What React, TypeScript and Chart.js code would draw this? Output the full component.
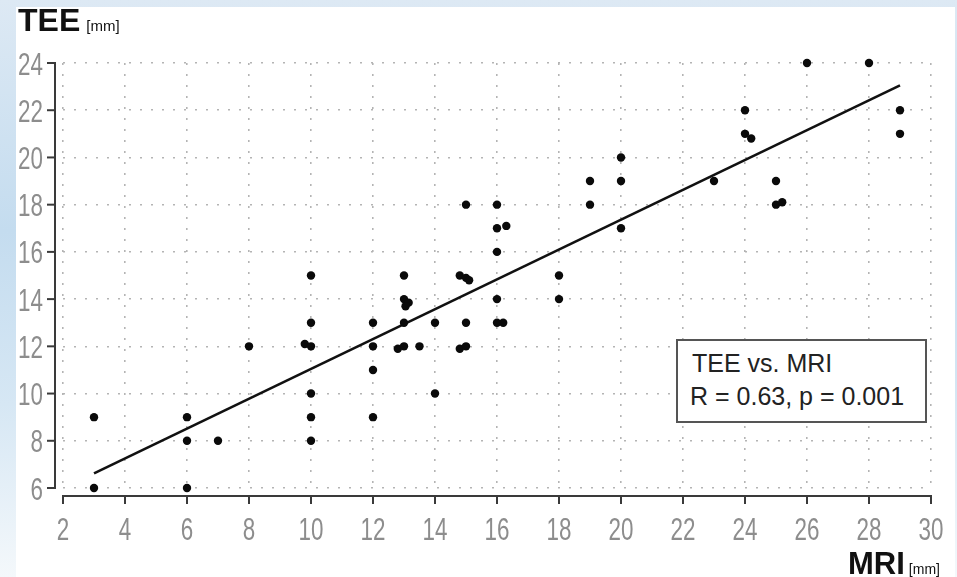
import React, { useEffect, useRef } from "react";
import { Chart, registerables } from "chart.js";

Chart.register(...registerables);

// MRI (x) vs TEE (y) measurements, mm
const mriValues = [
  3, 3, 6, 6, 6, 7, 8, 9.8, 10, 10, 10, 10, 10, 10,
  12, 12, 12, 12, 12.8, 13, 13, 13, 13.15, 13.05, 13, 13.5, 14, 14,
  14.8, 15, 15.1, 15, 15, 14.8, 15, 16, 16, 16.3, 16, 16, 16, 16.2,
  18, 18, 19, 19, 20, 20, 20, 23, 24, 24, 24.2, 25, 25, 25.2, 26, 28, 29, 29,
];
const teeValues = [
  9, 6, 9, 8, 6, 8, 12, 12.1, 15, 13, 12, 10, 9, 8,
  13, 12, 11, 9, 11.9, 12, 13, 14, 13.85, 13.7, 15, 12, 13, 10,
  15, 14.9, 14.8, 18, 13, 11.9, 12, 18, 17, 17.1, 16, 14, 13, 13,
  15, 14, 19, 18, 20, 19, 17, 19, 22, 21, 20.8, 19, 18, 18.1, 24, 24, 22, 21,
];
// regression line endpoints
const fitLineX = [3, 29];
const fitLineY = [6.62, 23.05];

const xTicks = [2, 4, 6, 8, 10, 12, 14, 16, 18, 20, 22, 24, 26, 28, 30];
const yTicks = [6, 8, 10, 12, 14, 16, 18, 20, 22, 24];
const legendLine1 = "TEE vs. MRI";
const legendLine2 = "R = 0.63, p = 0.001";

const TICK_FONT = '"Liberation Sans", Arial, sans-serif';
const TEXT_FONT = '"Liberation Sans", Arial, sans-serif';

// draws the offset axis lines with tick marks, and condensed tick labels from the scales' ticks
const axisPlugin = {
  id: "offsetAxes",
  afterDraw(chart: any) {
    const { ctx, chartArea, scales } = chart;
    const xs = scales.x;
    const ys = scales.y;
    ctx.save();
    ctx.strokeStyle = "#3a3a3a";
    ctx.lineWidth = 2;
    // y axis
    const ax = chartArea.left - 8;
    ctx.beginPath();
    ctx.moveTo(ax, ys.getPixelForValue(ys.max));
    ctx.lineTo(ax, ys.getPixelForValue(ys.min));
    ctx.stroke();
    ys.ticks.forEach((t: any) => {
      const p = ys.getPixelForValue(t.value);
      ctx.beginPath();
      ctx.moveTo(ax - 8, p);
      ctx.lineTo(ax + 1, p);
      ctx.stroke();
    });
    // x axis
    const ay = chartArea.bottom + 8;
    ctx.beginPath();
    ctx.moveTo(xs.getPixelForValue(xs.min), ay);
    ctx.lineTo(xs.getPixelForValue(xs.max), ay);
    ctx.stroke();
    xs.ticks.forEach((t: any) => {
      const p = xs.getPixelForValue(t.value);
      ctx.beginPath();
      ctx.moveTo(p, ay - 1);
      ctx.lineTo(p, ay + 8);
      ctx.stroke();
    });

    // condensed tick labels
    const sx = 0.7;
    ctx.fillStyle = "#8d8d8d";
    ctx.font = `32px ${TICK_FONT}`;
    ctx.textBaseline = "alphabetic";
    ctx.textAlign = "center";
    xs.ticks.forEach((t: any) => {
      const p = xs.getPixelForValue(t.value);
      ctx.save();
      ctx.translate(p, chartArea.bottom + 52);
      ctx.scale(sx, 1);
      ctx.fillText(String(t.value), 0, 0);
      ctx.restore();
    });
    ctx.textAlign = "right";
    ys.ticks.forEach((t: any) => {
      const p = ys.getPixelForValue(t.value);
      ctx.save();
      ctx.translate(chartArea.left - 20, p + 11.5);
      ctx.scale(sx, 1);
      ctx.fillText(String(t.value), 0, 0);
      ctx.restore();
    });
    ctx.restore();
  },
};

export default function App() {
  const canvasRef = useRef<HTMLCanvasElement | null>(null);

  useEffect(() => {
    if (!canvasRef.current) return;
    const points = mriValues.map((x, i) => ({ x, y: teeValues[i] }));
    const fit = fitLineX.map((x, i) => ({ x, y: fitLineY[i] }));
    const chart = new Chart(canvasRef.current, {
      type: "scatter",
      data: {
        datasets: [
          {
            type: "line",
            data: fit,
            borderColor: "#111",
            borderWidth: 2.6,
            pointRadius: 0,
            clip: false,
            order: 2,
          } as any,
          {
            data: points,
            backgroundColor: "#0a0a0a",
            borderWidth: 0,
            pointRadius: 4.2,
            clip: false,
            order: 1,
          } as any,
        ],
      },
      options: {
        animation: false,
        responsive: false,
        layout: { padding: { left: 0, top: 63, right: 26, bottom: 0 } },
        plugins: { legend: { display: false }, tooltip: { enabled: false } },
        scales: {
          x: {
            type: "linear",
            min: 2,
            max: 30,
            afterFit: (s: any) => {
              s.height = 89;
              s.paddingLeft = 0;
              s.paddingRight = 0;
            },
            afterBuildTicks: (s: any) => { s.ticks = xTicks.map((v) => ({ value: v })); },
            ticks: { display: false },
            grid: { color: "#b4b4b4", lineWidth: 1.6, drawTicks: false },
            border: { display: false, dash: [2, 9] },
          },
          y: {
            type: "linear",
            min: 6,
            max: 24,
            afterFit: (s: any) => {
              s.width = 63;
              s.paddingTop = 0;
              s.paddingBottom = 0;
            },
            afterBuildTicks: (s: any) => { s.ticks = yTicks.map((v) => ({ value: v })); },
            ticks: { display: false },
            grid: { color: "#b4b4b4", lineWidth: 1.6, drawTicks: false },
            border: { display: false, dash: [2, 9] },
          },
        },
      } as any,
      plugins: [axisPlugin],
    });
    return () => chart.destroy();
  }, []);

  return (
    <div
      style={{
        position: "fixed",
        left: 0,
        top: 0,
        width: 957,
        height: 577,
        overflow: "hidden",
        background: "linear-gradient(to bottom, #dde9f4 0%, #c4dcef 40%, #d6e7f4 70%, #f4f8fb 100%)",
      }}
    >
      <div style={{ position: "absolute", left: 16, top: 7, width: 939, height: 570, background: "#ffffff" }} />
      <canvas ref={canvasRef} width={957} height={577} style={{ position: "absolute", left: 0, top: 0 }} />
      <div
        style={{
          position: "absolute",
          left: 18,
          top: 4,
          fontFamily: TEXT_FONT,
          color: "#111",
          whiteSpace: "nowrap",
          lineHeight: 1,
        }}
      >
        <span style={{ fontWeight: "bold", fontSize: 32 }}>TEE</span>
        <span style={{ fontSize: 15, marginLeft: 6 }}>[mm]</span>
      </div>
      <div
        style={{
          position: "absolute",
          left: 848,
          top: 548,
          fontFamily: TEXT_FONT,
          color: "#111",
          whiteSpace: "nowrap",
          lineHeight: 1,
        }}
      >
        <span style={{ fontWeight: "bold", fontSize: 31 }}>MRI</span>
        <span style={{ fontSize: 14, marginLeft: 4 }}>[mm]</span>
      </div>
      <div
        style={{
          position: "absolute",
          left: 676,
          top: 339,
          width: 247,
          height: 80,
          border: "2px solid #555",
          background: "#ffffff",
          fontFamily: TEXT_FONT,
          fontSize: 25,
          color: "#222",
          lineHeight: "33px",
          boxSizing: "content-box",
        }}
      >
        <div style={{ position: "absolute", left: 14, top: 6, whiteSpace: "nowrap" }}>{legendLine1}</div>
        <div style={{ position: "absolute", left: 12, top: 39, whiteSpace: "nowrap" }}>{legendLine2}</div>
      </div>
    </div>
  );
}
